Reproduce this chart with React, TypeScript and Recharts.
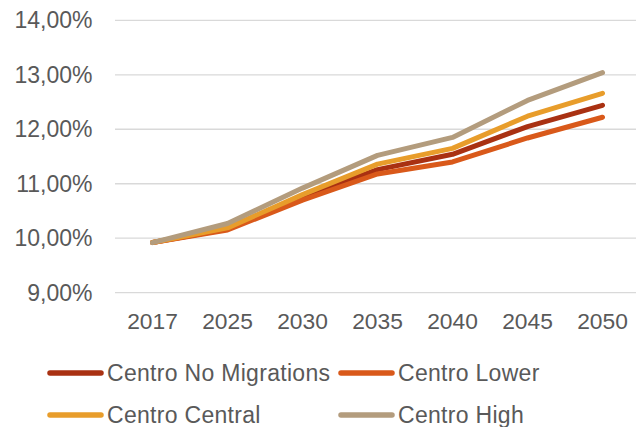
import React from 'react';
import { LineChart, Line, XAxis, YAxis, CartesianGrid, Legend } from 'recharts';

const years = ['2017', '2025', '2030', '2035', '2040', '2045', '2050'];
const noMigrations = [9.92, 10.17, 10.76, 11.26, 11.54, 12.05, 12.44];
const lower = [9.92, 10.15, 10.70, 11.18, 11.40, 11.84, 12.22];
const central = [9.92, 10.19, 10.80, 11.36, 11.65, 12.24, 12.66];
const high = [9.92, 10.27, 10.92, 11.52, 11.85, 12.53, 13.04];
const yTicks = [9, 10, 11, 12, 13, 14];

const seriesNames = ['Centro No Migrations', 'Centro Lower', 'Centro Central', 'Centro High'];
const seriesKeys = ['noMig', 'lower', 'central', 'high'];
const seriesColors = ['#A93112', '#D9591A', '#E89D2B', '#B39C7D'];

const data = years.map((y, i) => ({
  year: y,
  noMig: noMigrations[i],
  lower: lower[i],
  central: central[i],
  high: high[i],
}));

const FONT = '"Liberation Sans", Arial, sans-serif';
const fmt = (v: number) => v.toFixed(2).replace('.', ',') + '%';

const LegendContent = () => {
  const pos = [
    { left: 47, top: 30.7 },
    { left: 338, top: 30.7 },
    { left: 47, top: 73.3 },
    { left: 338, top: 73.3 },
  ];
  return (
    <div style={{ position: 'relative', width: 636, height: 100 }}>
      {seriesNames.map((n, i) => (
        <div
          key={n}
          style={{
            position: 'absolute',
            left: pos[i].left,
            top: pos[i].top,
            height: 30,
            lineHeight: '30px',
            whiteSpace: 'nowrap',
          }}
        >
          <svg width={60} height={30} style={{ position: 'absolute', left: 0, top: 0 }}>
            <line x1={3} y1={15} x2={54} y2={15} stroke={seriesColors[i]} strokeWidth={5.5} strokeLinecap="round" />
          </svg>
          <span
            style={{
              position: 'absolute',
              left: 60,
              top: 0,
              fontFamily: FONT,
              fontSize: 23,
              letterSpacing: 0.3,
              color: '#595959',
            }}
          >
            {n}
          </span>
        </div>
      ))}
    </div>
  );
};

export default function App() {
  return (
    <div style={{ width: 636, height: 427, overflow: 'hidden', position: 'relative', background: '#fff' }}>
      <style>{'html,body{margin:0;padding:0;overflow:hidden;}'}</style>
      <LineChart
        width={645}
        height={427}
        data={data}
        margin={{ top: 20.3, right: 5, left: 0, bottom: 4.3 }}
      >
        <CartesianGrid vertical={false} stroke="#D9D9D9" strokeWidth={1.3} />
        <XAxis
          dataKey="year"
          axisLine={false}
          tickLine={false}
          tickSize={0}
          tickMargin={20.3}
          height={30}
          interval={0}
          padding={{ left: 37.5, right: 37.5 }}
          tick={{ fill: '#595959', fontSize: 22.8, fontFamily: FONT }}
        />
        <YAxis
          domain={[9, 14]}
          ticks={yTicks}
          width={115}
          axisLine={false}
          tickLine={false}
          tickSize={0}
          tickMargin={22.5}
          tickFormatter={fmt}
          tick={{ fill: '#595959', fontSize: 23, fontFamily: FONT }}
        />
        <Legend
          content={<LegendContent />}
          wrapperStyle={{ top: 327, left: 0, width: 636, height: 100 }}
        />
        {seriesKeys.map((k, i) => (
          <Line
            key={k}
            dataKey={k}
            name={seriesNames[i]}
            type="linear"
            stroke={seriesColors[i]}
            strokeWidth={5}
            strokeLinecap="round"
            strokeLinejoin="round"
            dot={false}
            activeDot={false}
            isAnimationActive={false}
          />
        ))}
      </LineChart>
    </div>
  );
}
